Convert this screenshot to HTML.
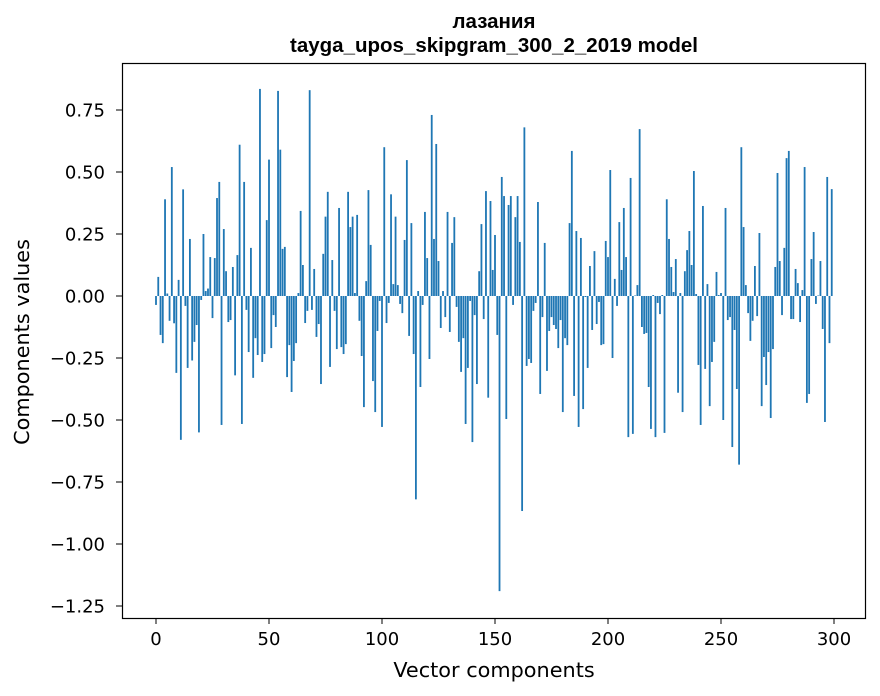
<!DOCTYPE html>
<html><head><meta charset="utf-8"><style>
html,body{margin:0;padding:0;background:#fff;}
svg{display:block;font-family:"DejaVu Sans","Liberation Sans",sans-serif;}
</style></head><body>
<svg id="chart" width="880" height="696" viewBox="0 0 880 696">
<rect x="0" y="0" width="880" height="696" fill="#fff"/>
<text x="494" y="28" text-anchor="middle" font-size="20.5" font-weight="bold" font-family="Liberation Sans, sans-serif">лазания</text>
<text x="494" y="52" text-anchor="middle" font-size="20.5" font-weight="bold" font-family="Liberation Sans, sans-serif">tayga_upos_skipgram_300_2_2019 model</text>
<g id="bars"></g>
<g id="axes"></g>
<rect x="122.5" y="63.5" width="743" height="555" fill="none" stroke="#000" stroke-width="1.2"/>
<text x="494" y="677" text-anchor="middle" font-size="20.8">Vector components</text>
<text transform="translate(29,342) rotate(-90)" text-anchor="middle" font-size="20.8">Components values</text>
</svg>
<script>
const values = [
-0.036,0.077,-0.157,-0.19,0.39,0.01,-0.10,0.52,-0.11,-0.31,
0.065,-0.58,0.43,-0.04,-0.29,0.23,-0.26,-0.185,-0.117,-0.55,
-0.016,0.25,0.02,0.03,0.157,-0.089,0.153,0.395,0.46,-0.52,
0.27,0.10,-0.105,-0.097,0.117,-0.32,0.165,0.61,-0.516,0.46,
-0.056,-0.226,0.194,-0.33,-0.17,-0.238,0.835,-0.266,-0.234,0.306,
0.55,-0.21,-0.077,-0.125,0.827,0.59,0.19,0.198,-0.327,-0.198,
-0.387,-0.262,-0.19,0.012,0.343,0.125,-0.109,-0.06,0.83,-0.056,
0.109,-0.165,-0.113,-0.355,0.17,0.32,0.42,-0.286,0.145,-0.06,
-0.214,0.355,-0.206,-0.234,-0.194,0.42,0.278,0.32,0.012,0.327,
-0.10,-0.242,-0.448,0.06,0.427,0.206,-0.343,-0.468,-0.141,-0.02,
-0.528,0.60,-0.109,-0.028,0.41,0.048,0.32,0.044,-0.032,-0.069,
0.226,0.548,-0.161,0.294,-0.234,-0.82,0.02,-0.367,-0.036,0.339,
0.153,-0.254,0.73,0.23,0.613,0.141,-0.129,0.02,-0.085,0.339,
-0.145,0.214,0.318,-0.044,-0.185,-0.306,-0.17,-0.516,-0.29,-0.02,
-0.589,-0.077,-0.355,0.10,0.29,-0.093,0.423,-0.41,0.383,0.105,
0.246,-0.157,-1.19,0.48,0.403,-0.496,0.367,0.403,-0.036,0.318,
0.403,0.218,-0.867,0.68,-0.282,-0.254,-0.27,-0.06,-0.028,0.379,
-0.395,-0.085,0.214,-0.302,-0.141,-0.085,-0.117,-0.133,-0.21,-0.097,
-0.468,-0.17,-0.198,0.294,0.585,-0.403,0.262,-0.528,0.234,-0.456,
-0.004,-0.29,0.121,-0.137,0.181,-0.113,-0.024,-0.198,-0.194,0.222,
0.157,0.508,-0.25,0.069,-0.04,0.298,0.105,0.355,0.157,-0.569,
0.476,-0.556,0.002,0.044,0.673,-0.125,-0.153,-0.149,-0.367,-0.536,
0.004,-0.569,-0.028,-0.073,0.004,-0.552,0.39,0.23,0.117,0.016,
0.149,-0.39,0.012,-0.468,0.10,0.185,0.262,0.125,0.504,0.008,
-0.278,-0.52,0.363,-0.294,0.048,-0.444,-0.266,-0.185,0.097,0.004,
0.012,-0.5,0.355,-0.097,-0.085,-0.609,-0.137,-0.375,-0.68,0.60,
0.278,0.044,-0.069,-0.181,-0.10,0.121,-0.081,0.254,-0.444,-0.246,
-0.359,-0.226,-0.492,-0.214,0.117,0.496,0.141,-0.077,0.194,0.556,
0.585,-0.093,-0.093,0.109,0.052,-0.105,0.024,0.52,-0.431,-0.395,
0.149,0.258,-0.032,0.002,0.141,-0.133,-0.508,0.48,-0.19,0.431
];
const xTicks = [0,50,100,150,200,250,300];
const yTicks = [0.75,0.5,0.25,0,-0.25,-0.5,-0.75,-1.0,-1.25];
const yTickLabels = ["0.75","0.50","0.25","0.00","\u22120.25","\u22120.50","\u22120.75","\u22121.00","\u22121.25"];

const NS = "http://www.w3.org/2000/svg";
const X0 = 156, XS = 2.26;
const Y0 = 296, YS = 248;
function xScale(v){ return X0 + v * XS; }
function yScale(v){ return Y0 - v * YS; }

const bars = document.getElementById('bars');
values.forEach((v, i) => {
  const r = document.createElementNS(NS, 'rect');
  const w = 0.8 * XS;
  const y1 = yScale(Math.max(v, 0)), y2 = yScale(Math.min(v, 0));
  r.setAttribute('x', xScale(i) - w / 2);
  r.setAttribute('y', y1);
  r.setAttribute('width', w);
  r.setAttribute('height', Math.max(y2 - y1, 0.3));
  r.setAttribute('fill', '#1f77b4');
  
  
  bars.appendChild(r);
});

const axes = document.getElementById('axes');
xTicks.forEach(t => {
  const x = xScale(t);
  const l = document.createElementNS(NS, 'line');
  l.setAttribute('x1', x); l.setAttribute('x2', x);
  l.setAttribute('y1', 618); l.setAttribute('y2', 624);
  l.setAttribute('stroke', '#000');
  
  
  axes.appendChild(l);
  const tx = document.createElementNS(NS, 'text');
  tx.setAttribute('x', x); tx.setAttribute('y', 645);
  tx.setAttribute('text-anchor', 'middle');
  tx.setAttribute('font-size', '18');
  tx.textContent = String(t);
  
  
  axes.appendChild(tx);
});
yTicks.forEach((t, k) => {
  const y = yScale(t);
  const l = document.createElementNS(NS, 'line');
  l.setAttribute('x1', 116); l.setAttribute('x2', 122);
  l.setAttribute('y1', y); l.setAttribute('y2', y);
  l.setAttribute('stroke', '#000');
  
  
  axes.appendChild(l);
  const tx = document.createElementNS(NS, 'text');
  tx.setAttribute('x', 105); tx.setAttribute('y', y + 6.5);
  tx.setAttribute('text-anchor', 'end');
  tx.setAttribute('font-size', '18');
  tx.textContent = yTickLabels[k];
  
  
  axes.appendChild(tx);
});
</script>
</body></html>
